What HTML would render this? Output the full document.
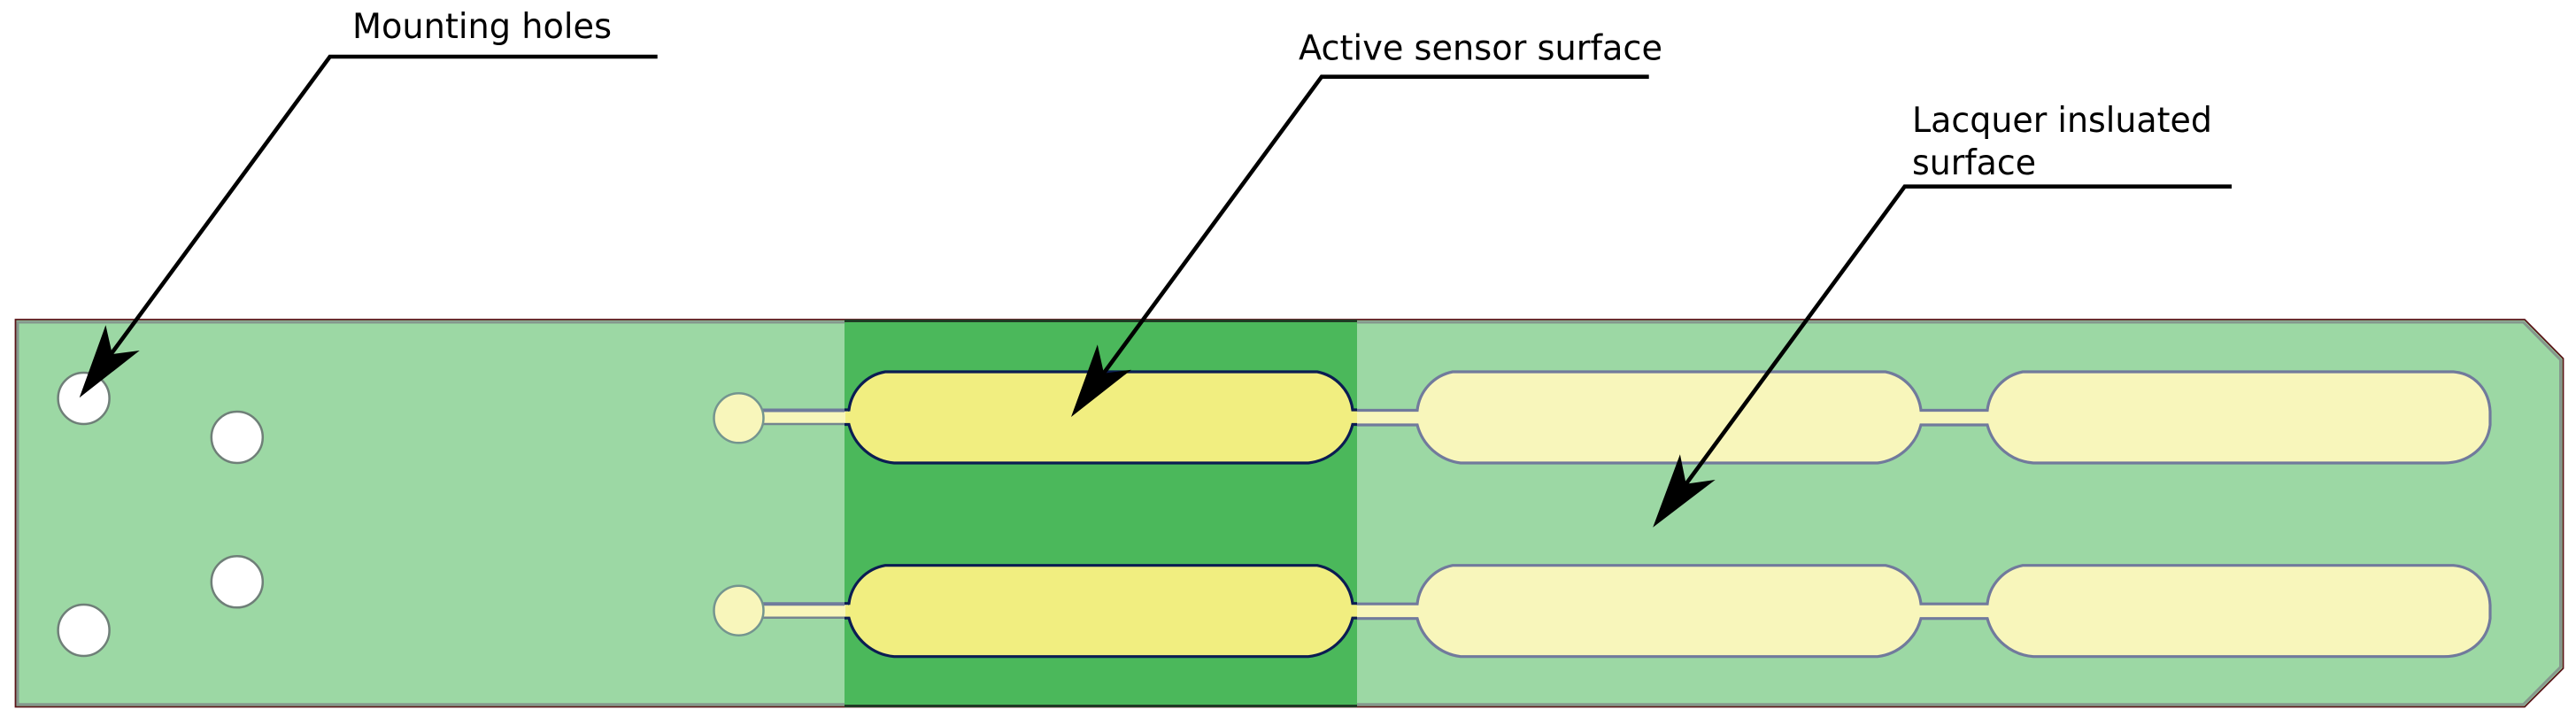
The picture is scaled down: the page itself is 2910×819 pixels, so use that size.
<!DOCTYPE html>
<html lang="en">
<head>
<meta charset="utf-8">
<title>Sensor diagram</title>
<style>
html,body{margin:0;padding:0;background:#fff;width:2910px;height:819px;overflow:hidden}
svg{display:block}
text{font-family:"DejaVu Sans","Liberation Sans",sans-serif;font-size:39px;fill:#000}
</style>
</head>
<body>
<svg width="2910" height="819" viewBox="0 0 2910 819" xmlns="http://www.w3.org/2000/svg">
  <defs>
    <g id="row">
      <!-- pad trace -->
      <rect x="858" y="464" width="100" height="15" fill="#f8f6bb"/>
      <path d="M861,463.5H954" stroke="#6f7b9c" stroke-width="4" fill="none"/>
      <path d="M861,479H954" stroke="#74858f" stroke-width="2.5" fill="none"/>
      <!-- active pad -->
      <path d="M955,465H959A50,50 0 0 1 1000,420H1488A50,50 0 0 1 1528,463L1534,465V478L1528,479A58,58 0 0 1 1478,523H1010A58,58 0 0 1 959,479L955,478Z" fill="#f1ee80"/>
      <path d="M954,463H959A50,50 0 0 1 1000,420H1488A50,50 0 0 1 1528,463H1533M1533,479.5H1528A58,58 0 0 1 1478,523H1010A58,58 0 0 1 959,479.5H954" fill="none" stroke="#0b1c52" stroke-width="3.2"/>
      <!-- insulated strip -->
      <path d="M1533,463.5H1601A50,50 0 0 1 1641,420H2130A50,50 0 0 1 2170,463.5H2245A50,50 0 0 1 2285,420H2771.5C2797,422 2812,442 2813,465V480C2810,506 2788,523 2761,523H2297A58,58 0 0 1 2245,480H2170A58,58 0 0 1 2121,523H1650A58,58 0 0 1 1601,480H1533" fill="#f8f6bb" stroke="#717a9c" stroke-width="3.2"/>
    </g>
  </defs>

  <!-- board -->
  <path d="M17.5,361H2852L2895.5,405V755L2852,798.5H17.5Z" fill="#9cd8a4" stroke="#5a1418" stroke-width="1.8"/>
  <path d="M20,364H2850.5L2892.5,406.5V753.5L2850.5,795.8H20Z" fill="none" stroke="#85978d" stroke-width="3"/>

  <!-- active band -->
  <rect x="954" y="361" width="579" height="438" fill="#4bb85b"/>
  <rect x="954" y="361" width="579" height="3" fill="#1f3a24"/>
  <rect x="954" y="796" width="579" height="3" fill="#1f3a24"/>

  <!-- holes -->
  <g fill="#fff" stroke="#6f7f78" stroke-width="2.5">
    <circle cx="94.6" cy="450" r="29"/>
    <circle cx="267.8" cy="494" r="29"/>
    <circle cx="267.8" cy="657.3" r="29"/>
    <circle cx="94.6" cy="712" r="29"/>
  </g>

  <!-- strips -->
  <use href="#row"/>
  <use href="#row" transform="translate(0,218.7)"/>

  <!-- round pads -->
  <g fill="#f8f6bb" stroke="#74958f" stroke-width="2.5">
    <circle cx="834.5" cy="472.3" r="28"/>
    <circle cx="834.5" cy="689.7" r="28"/>
  </g>

  <!-- leaders -->
  <g fill="none" stroke="#000" stroke-width="4.6">
    <path d="M742.7,64H372.7L124,402"/>
    <path d="M1862.7,86.7H1493L1245,424"/>
    <path d="M2521,210.7H2151.7L1903,549"/>
  </g>
  <g fill="#000">
    <path d="M89.7,449.3L119.4,367.3L126.8,400L157.7,396Z"/>
    <path d="M1210,471L1239.8,389.3L1247,421.7L1278,417.7Z"/>
    <path d="M1867.2,595.7L1897.9,513.3L1904.7,546.7L1937.7,542Z"/>
  </g>

  <!-- labels -->
  <text x="398" y="43" textLength="293" lengthAdjust="spacingAndGlyphs">Mounting holes</text>
  <text x="1467" y="67.5" textLength="411" lengthAdjust="spacingAndGlyphs">Active sensor surface</text>
  <text x="2160" y="149" textLength="339" lengthAdjust="spacingAndGlyphs">Lacquer insluated</text>
  <text x="2160" y="197" textLength="140" lengthAdjust="spacingAndGlyphs">surface</text>
</svg>
</body>
</html>
